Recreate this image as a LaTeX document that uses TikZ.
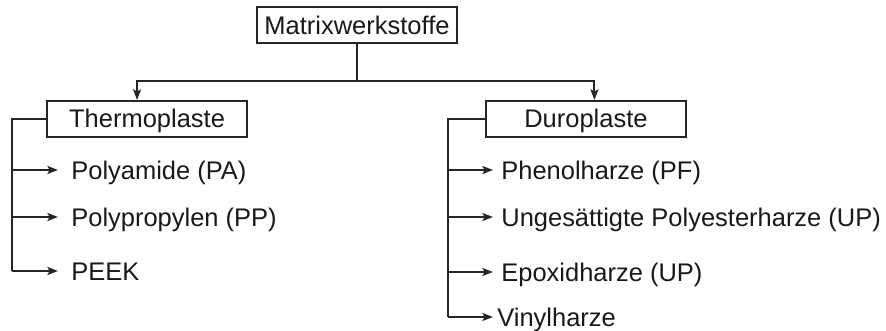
\documentclass[tikz,border=0pt]{standalone}
\usepackage{fontspec}
\setmainfont{Liberation Sans}
\usepackage{xcolor}
\usepackage{tikz}
\usetikzlibrary{arrows.meta, positioning}

\begin{document}
\begin{tikzpicture}[
        font=\fontsize{14.5pt}{17pt}\selectfont,
        text=black!90,
        box/.style={rectangle, draw=black!85, line width=1.1pt, minimum width=4cm, minimum height=0.72cm, inner sep=0pt, text height=10.3pt, text depth=0pt},
        item/.style={anchor=west, inner ysep=0pt, inner xsep=0.16cm, text height=10.3pt, text depth=0pt},
        line/.style={draw=black!85, line width=1.1pt},
        arrow/.style={line, -{Stealth[length=6pt, width=4.5pt, inset=1.2pt]}}
    ]
    \useasboundingbox (0,0) rectangle (17.72,-6.62);

    \node [box] (root) at (7.14,-0.50) {Matrixwerkstoffe};
    \node [box, below left=1.12cm and 0.16cm of root] (thermo) {Thermoplaste};
    \node [box, below right=1.12cm and 0.54cm of root] (duro) {Duroplaste};

    \draw [line] (root.south) -- ++(0,-0.74) coordinate (split);
    \draw [arrow] (split) -| ([xshift=-0.2cm]thermo.north);
    \draw [arrow] (split) -| ([xshift=0.17cm]duro.north);

    % Thermoplaste
    \node [item, inner xsep=0.26cm] (pa) at (1.16,-3.40) {Polyamide (PA)};
    \node [item, inner xsep=0.26cm] (pp) at (1.16,-4.34) {Polypropylen (PP)};
    \node [item, inner xsep=0.26cm] (peek) at (1.16,-5.42) {PEEK};
    \coordinate (lbar) at (0.24,-5.42);

    \draw [line] (thermo.west) -| (lbar);
    \draw [arrow] (pa -| lbar) -- (pa);
    \draw [arrow] (pp -| lbar) -- (pp);
    \draw [arrow] (lbar) -- (peek);

    % Duroplaste
    \node [item] (pf) at (9.86,-3.40) {Phenolharze (PF)};
    \node [item] (up) at (9.86,-4.34) {Ungesättigte Polyesterharze (UP)};
    \node [item] (ep) at (9.86,-5.44) {Epoxidharze (UP)};
    \node [item, inner xsep=0.08cm] (vinyl) at (9.86,-6.34) {Vinylharze};
    \coordinate (rbar) at (8.96,-6.34);

    \draw [line] (duro.west) -| (rbar);
    \draw [arrow] (pf -| rbar) -- (pf);
    \draw [arrow] (up -| rbar) -- (up);
    \draw [arrow] (ep -| rbar) -- (ep);
    \draw [arrow] (rbar) -- (vinyl);

    \end{tikzpicture}
\end{document}
